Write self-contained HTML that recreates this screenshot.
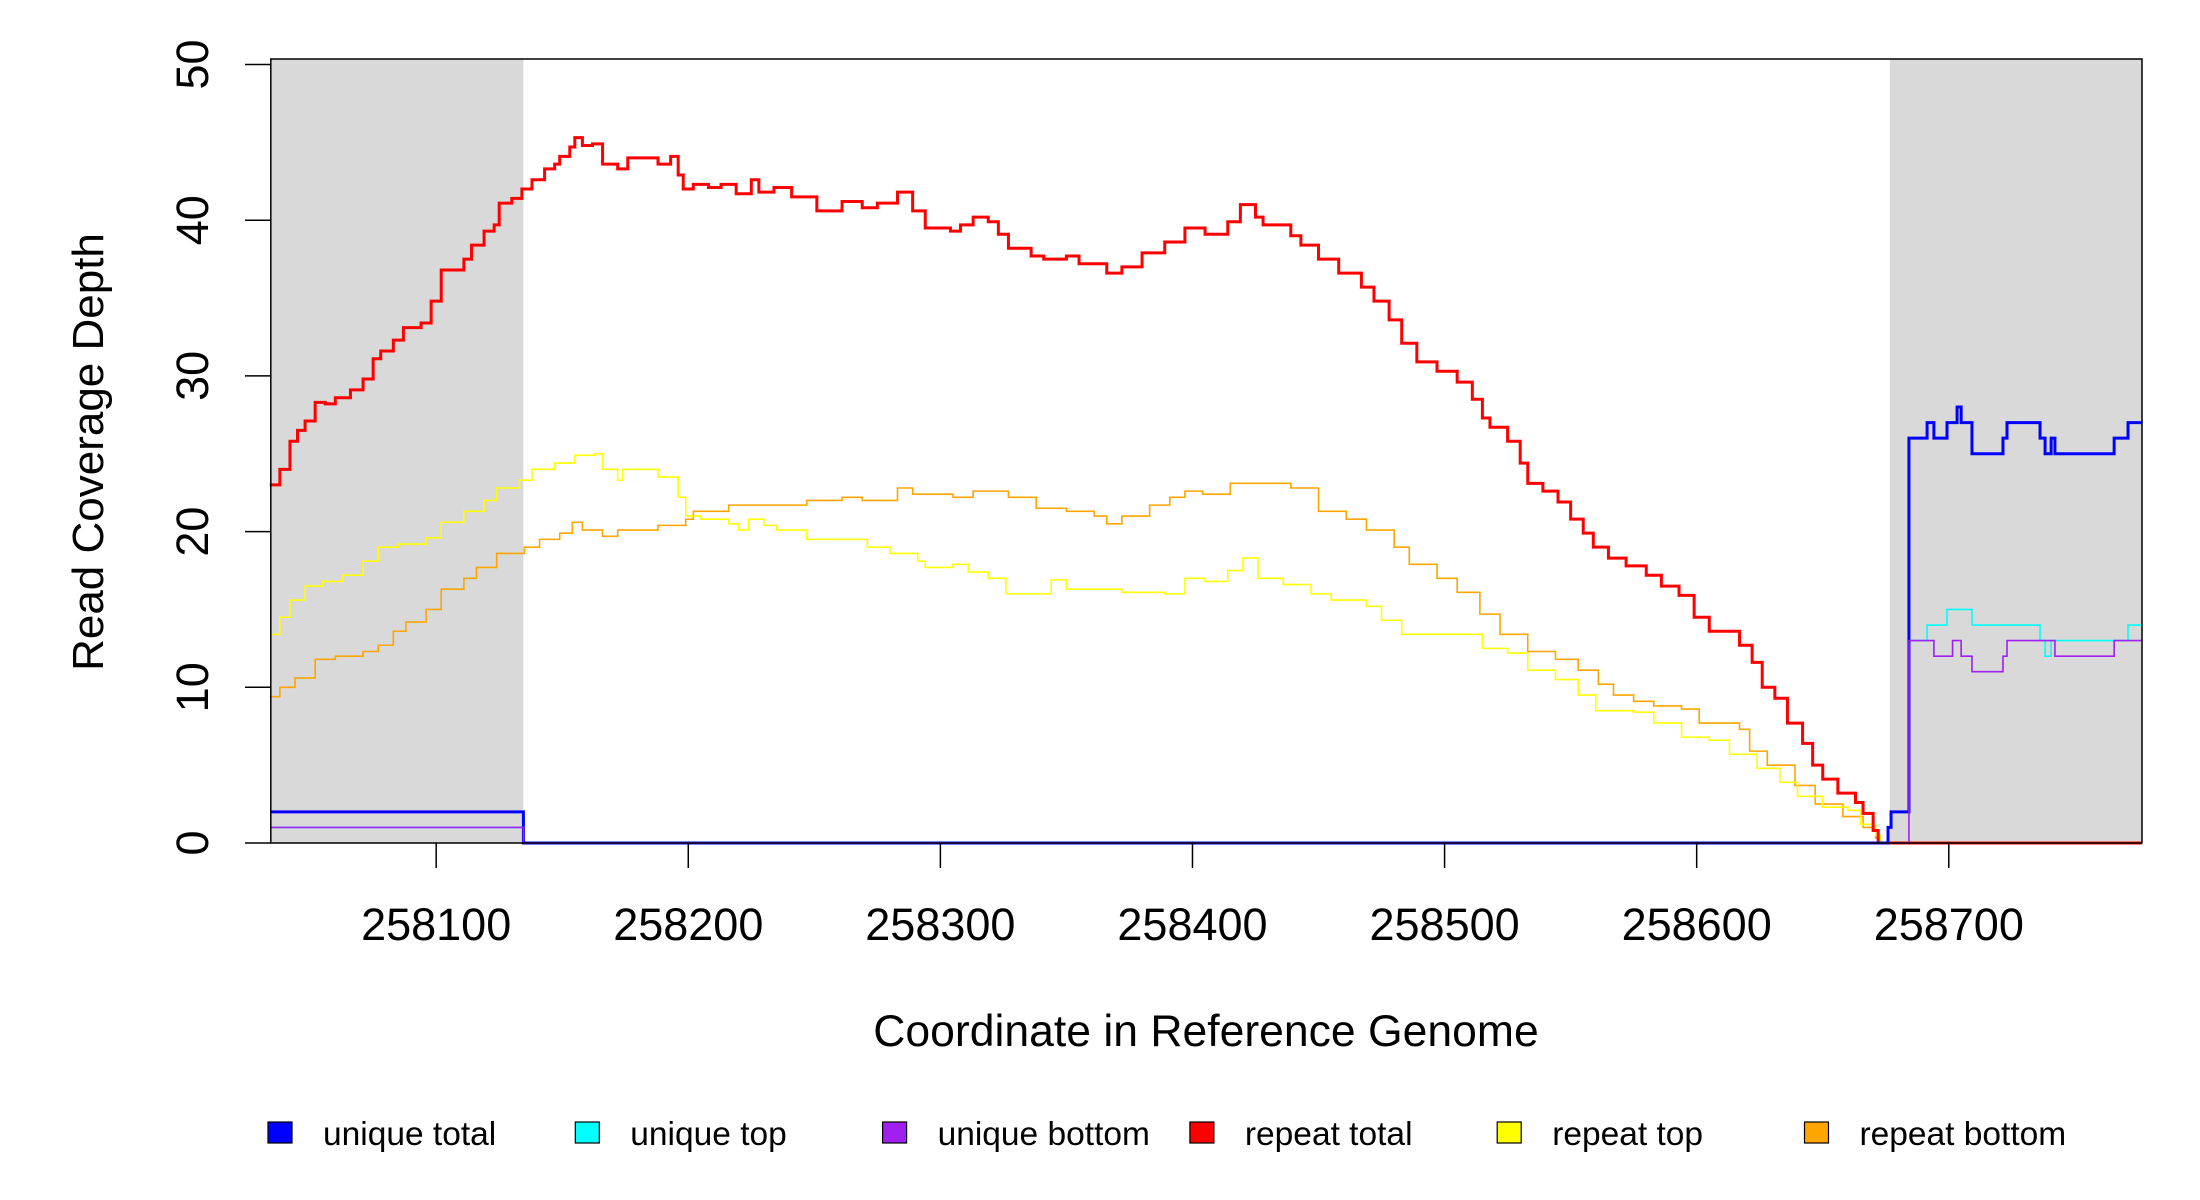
<!DOCTYPE html>
<html><head><meta charset="utf-8"><style>
html,body{margin:0;padding:0;background:#fff;}
svg{display:block;font-family:"Liberation Sans",sans-serif;}
</style></head><body>
<svg id="chart" width="2200" height="1200" viewBox="0 0 2200 1200" xmlns="http://www.w3.org/2000/svg">
<g id="bg"></g>
<g id="series"></g>
<g id="axes"></g>
<g id="legend"></g>
</svg>
<script>
const xTicks = [258100,258200,258300,258400,258500,258600,258700];
const yTicks = [0,10,20,30,40,50];
const shadedRegions = [[258034.4,258134.6],[258676.6,258776.6]];
const xEnd = 258776.6;

const redX = [258034,258038,258042,258045,258048,258052,258056,258060,258066,258071,258075,258078,258083,258087,258094,258098,258102,258111,258114,258119,258123,258125,258130,258134,258138,258143,258147,258149,258153,258155,258158,258162,258166,258172,258176,258188,258193,258196,258198,258202,258208,258213,258219,258225,258228,258234,258241,258251,258261,258269,258275,258283,258289,258294,258304,258308,258313,258319,258323,258327,258336,258341,258350,258355,258366,258372,258380,258389,258397,258405,258414,258419,258425,258428,258439,258443,258450,258458,258467,258472,258478,258483,258489,258497,258505,258511,258515,258518,258525,258530,258533,258539,258545,258550,258555,258559,258565,258572,258580,258586,258593,258599,258605,258617,258622,258626,258631,258636,258642,258646,258650,258656,258663,258666,258670,258672];
const redY = [23,24,25.8,26.5,27.1,28.3,28.2,28.6,29.1,29.8,31.1,31.6,32.3,33.1,33.4,34.8,36.8,37.5,38.4,39.3,39.7,41.1,41.4,42,42.6,43.3,43.6,44.1,44.7,45.3,44.8,44.9,43.6,43.3,44,43.6,44.1,42.9,42,42.3,42.1,42.3,41.7,42.6,41.8,42.1,41.5,40.6,41.2,40.8,41.1,41.8,40.6,39.5,39.3,39.7,40.2,39.9,39.1,38.2,37.7,37.5,37.7,37.2,36.6,37,37.9,38.6,39.5,39.1,39.9,41,40.2,39.7,39,38.4,37.5,36.6,35.7,34.8,33.6,32.1,30.9,30.3,29.6,28.5,27.3,26.7,25.8,24.4,23.1,22.6,21.9,20.8,19.9,19,18.3,17.8,17.2,16.5,15.9,14.5,13.6,12.7,11.6,10,9.3,7.7,6.4,5,4.1,3.2,2.6,1.9,0.8,0];

const yellowX = [258034,258038,258042,258048,258055,258063,258071,258077,258085,258096,258102,258111,258119,258124,258133,258138,258147,258155,258163,258166,258172,258174,258188,258196,258199,258205,258216,258220,258224,258230,258235,258247,258271,258280,258291,258294,258305,258311,258319,258326,258338,258344,258350,258372,258389,258397,258405,258414,258420,258426,258436,258447,258455,258469,258475,258483,258515,258525,258533,258544,258553,258560,258575,258583,258594,258605,258613,258624,258633,258640,258650,258660,258665,258671,258673];
const yellowY = [13.4,14.5,15.6,16.5,16.8,17.2,18.1,19,19.2,19.6,20.6,21.3,22,22.8,23.3,24,24.4,24.9,25,24,23.3,24,23.5,22.2,21,20.8,20.5,20.1,20.8,20.4,20.1,19.5,19,18.6,18.1,17.7,17.9,17.4,17,16,16,16.9,16.3,16.1,16,17,16.8,17.5,18.3,17,16.6,16,15.6,15.2,14.3,13.4,12.5,12.2,11.1,10.5,9.5,8.5,8.4,7.7,6.8,6.6,5.7,4.8,3.9,3,2.3,2.1,1.2,0.5,0];

const orangeX = [258034,258038,258044,258052,258060,258071,258077,258083,258088,258096,258102,258111,258116,258124,258135,258141,258149,258154,258158,258166,258172,258188,258199,258202,258216,258247,258261,258269,258283,258289,258305,258313,258327,258338,258350,258361,258366,258372,258383,258391,258397,258404,258415,258439,258450,258461,258469,258480,258486,258497,258505,258514,258522,258533,258544,258553,258561,258567,258575,258583,258594,258601,258617,258621,258628,258639,258647,258658,258666,258671,258673];
const orangeY = [9.4,10,10.6,11.8,12,12.3,12.7,13.6,14.2,15,16.3,17,17.7,18.6,19,19.5,19.9,20.6,20.1,19.7,20.1,20.4,20.8,21.3,21.7,22,22.2,22,22.8,22.4,22.2,22.6,22.2,21.5,21.3,21,20.5,21,21.7,22.2,22.6,22.4,23.1,22.8,21.3,20.8,20.1,19,17.9,17,16.1,14.7,13.4,12.3,11.8,11.1,10.2,9.5,9.1,8.8,8.6,7.7,7.3,5.9,5,3.7,2.5,1.7,1,0.3,0];

const uTotalX = [258034.4,258134.6,258675.9,258677.1,258684.2,258691.4,258694.1,258699.3,258703.3,258704.9,258709.2,258721.5,258723.1,258736.2,258738.2,258740.6,258742.1,258765.6,258771.1];
const uTotalY = [2,0,1,2,26,27,26,27,28,27,25,26,27,26,25,26,25,26,27];

const uTopX = [258034.4,258134.6,258675.9,258677.1,258684.2,258691.4,258699.3,258709.2,258736.2,258738.2,258740.6,258771.1];
const uTopY = [1,0,1,2,13,14,15,14,13,12,13,14];

const uBotX = [258034.4,258134.6,258684.2,258694.1,258701.5,258704.9,258709.2,258721.5,258723.1,258742.1,258765.6];
const uBotY = [1,0,13,12,13,12,11,12,13,12,13];

const NS = "http://www.w3.org/2000/svg";
const L = 270.8, R = 2142, T = 59, B = 843;
function X(c){ return L + (c - 258034.4) * 2.521; }
function Y(v){ return B - v * 15.57; }
function mk(tag, attrs, parent){ const e = document.createElementNS(NS, tag); for (const k in attrs) e.setAttribute(k, attrs[k]); parent.appendChild(e); return e; }

const bg = document.getElementById('bg');
shadedRegions.forEach(function(r, i){
  const rc = mk('rect', {x: X(r[0]), y: T, width: X(r[1]) - X(r[0]), height: B - T, fill: '#d9d9d9'}, bg);
  
  
});

function stepPath(xs, ys){
  let d = 'M' + X(xs[0]) + ' ' + Y(ys[0]);
  for (let i = 1; i < xs.length; i++){
    d += ' H' + X(xs[i]) + ' V' + Y(ys[i]);
  }
  d += ' H' + X(xEnd);
  return d;
}
const sg = document.getElementById('series');
function drawSeries(xs, ys, color, w, name){
  const p = mk('path', {d: stepPath(xs, ys), fill: 'none', stroke: color, 'stroke-width': w, 'stroke-linejoin': 'miter'}, sg);
  
  
}
drawSeries(orangeX, orangeY, '#ffa500', 1.6, 'repeat-bottom-line');
drawSeries(yellowX, yellowY, '#ffff00', 1.6, 'repeat-top-line');
drawSeries(redX, redY, '#ff0000', 3, 'repeat-total-line');
drawSeries(uTopX, uTopY, '#00ffff', 1.6, 'unique-top-line');
drawSeries(uTotalX, uTotalY, '#0000ff', 3, 'unique-total-line');
drawSeries(uBotX, uBotY, '#a020f0', 1.6, 'unique-bottom-line');

const ax = document.getElementById('axes');
const box = mk('rect', {x: L, y: T, width: R - L, height: B - T, fill: 'none', stroke: '#000', 'stroke-width': 1.5}, ax);


xTicks.forEach(function(t){
  const ln = mk('line', {x1: X(t), x2: X(t), y1: B, y2: B + 25, stroke: '#000', 'stroke-width': 1.5}, ax);
  
  
  const tx = mk('text', {x: X(t), y: 940, 'text-anchor': 'middle', 'font-size': 45}, ax);
  tx.textContent = t;
  
  
});
yTicks.forEach(function(t){
  const ln = mk('line', {x1: 245, x2: L, y1: Y(t), y2: Y(t), stroke: '#000', 'stroke-width': 1.5}, ax);
  
  
  const tx = mk('text', {x: 208, y: Y(t), 'text-anchor': 'middle', 'font-size': 45, transform: 'rotate(-90 208 ' + Y(t) + ')'}, ax);
  tx.textContent = t;
  
  
});
const xt = mk('text', {x: 1206, y: 1046, 'text-anchor': 'middle', 'font-size': 44.5}, ax);
xt.textContent = 'Coordinate in Reference Genome';


const yt = mk('text', {x: 103, y: 452, 'text-anchor': 'middle', 'font-size': 44, transform: 'rotate(-90 103 452)'}, ax);
yt.textContent = 'Read Coverage Depth';



const legendLabels = ['unique total','unique top','unique bottom','repeat total','repeat top','repeat bottom'];
const legendColors = ['#0000ff','#00ffff','#a020f0','#ff0000','#ffff00','#ffa500'];
const lg = document.getElementById('legend');
legendLabels.forEach(function(lab, i){
  const x0 = 268 + i * 307.3;
  const g = mk('g', {}, lg);
  
  
  const sq = mk('rect', {x: x0, y: 1122, width: 24, height: 21, fill: legendColors[i], stroke: '#000', 'stroke-width': 1.2}, g);
  
  
  const tx = mk('text', {x: x0 + 55, y: 1145, 'font-size': 33.5}, g);
  tx.textContent = lab;
  
  
});
</script>
</body></html>
